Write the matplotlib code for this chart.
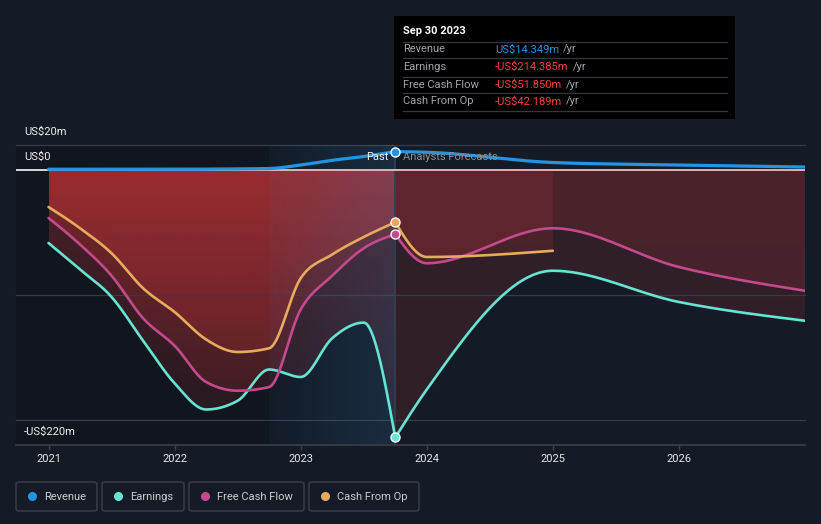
import numpy as np
import matplotlib
matplotlib.use("Agg")
import matplotlib.pyplot as plt
from matplotlib.patches import Rectangle, FancyBboxPatch
from matplotlib.lines import Line2D

plt.rcParams['font.family'] = ['Roboto', 'DejaVu Sans']

# past (quarterly, trailing twelve months) values in US$ m
past_years = [2021.0, 2021.25, 2021.5, 2021.75, 2022.0, 2022.25, 2022.5, 2022.75,
              2023.0, 2023.25, 2023.5, 2023.75]
revenue_past = [0.2, 0.2, 0.2, 0.2, 0.2, 0.3, 0.5, 0.8, 3.6, 7.4, 10.4, 14.349]
earnings_past = [-58.8, -80, -102, -137, -171, -192, -185, -160, -166, -135, -122.5, -214.385]
fcf_past = [-38.8, -60, -85, -119, -141, -170, -177, -174, -112, -85, -63, -51.85]
cfo_past = [-30, -47, -67, -95, -114, -136, -146, -143, -87, -68, -54, -42.189]

# analyst forecasts
fc_years = [2023.75, 2024.0, 2025.0, 2026.0, 2027.0]
revenue_fc = [14.349, 13.8, 5.6, 3.6, 2.0]
earnings_fc = [-214.385, -176, -81, -106, -121]
fcf_fc = [-51.85, -75, -47, -78, -97]
cfo_fc_years = [2023.75, 2024.0, 2025.0]
cfo_fc = [-42.189, -70, -65]

year_ticks = [2021, 2022, 2023, 2024, 2025, 2026]

BG = '#151b26'
C_REV = '#2394e0'
C_EARN = '#66e3d1'
C_FCF = '#c4498e'
C_CFO = '#e6ab5c'
RED = np.array([230, 58, 59]) / 255
FS = 8

W, H = 821, 524


def px(x, y):
    return x / W, 1 - y / H


def smooth(x, y, n=40):
    # monotone cubic (d3 curveMonotoneX style) used only for drawing the curve
    x = np.asarray(x, float)
    y = np.asarray(y, float)
    h = np.diff(x)
    d = np.diff(y) / h
    m = np.zeros_like(y)
    for i in range(1, len(y) - 1):
        s0, s1 = d[i - 1], d[i]
        p = (s0 * h[i] + s1 * h[i - 1]) / (h[i - 1] + h[i])
        m[i] = (np.sign(s0) + np.sign(s1)) * min(abs(s0), abs(s1), 0.5 * abs(p))
    m[0] = (3 * d[0] - m[1]) / 2 if len(y) > 2 else d[0]
    m[-1] = (3 * d[-1] - m[-2]) / 2 if len(y) > 2 else d[-1]
    xs, ys = [], []
    for i in range(len(h)):
        t = np.linspace(0, 1, n, endpoint=False)
        h00 = 2 * t**3 - 3 * t**2 + 1
        h10 = t**3 - 2 * t**2 + t
        h01 = -2 * t**3 + 3 * t**2
        h11 = t**3 - t**2
        xs.append(x[i] + t * h[i])
        ys.append(h00 * y[i] + h10 * h[i] * m[i] + h01 * y[i + 1] + h11 * h[i] * m[i + 1])
    xs.append([x[-1]])
    ys.append([y[-1]])
    return np.concatenate(xs), np.concatenate(ys)


fig = plt.figure(figsize=(W / 100, H / 100), dpi=100, facecolor=BG)
l, b = px(16, 444.5)
ax = fig.add_axes([l, b, 789 / W, 300 / H], facecolor=BG)
X0, X1 = 2020.742, 2027.0
Y0, Y1 = -220, 20


def red_fill(xs, ys, a_top, a_bot, z):
    poly = ax.fill_between(xs, 0, ys, facecolor='none', edgecolor='none')
    path = poly.get_paths()[0]
    img = np.zeros((256, 1, 4))
    img[..., :3] = RED
    img[..., 3] = np.linspace(a_top, a_bot, 256)[:, None]
    im = ax.imshow(img, extent=[xs.min(), xs.max(), -220, 0], aspect='auto',
                   origin='upper', interpolation='bilinear', zorder=z)
    im.set_clip_path(path, transform=ax.transData)


# darker past region
ax.axvspan(X0, 2023.75, color='black', alpha=0.2, lw=0, zorder=0)

# red area fills, past stronger with vertical fade, forecast flat
for yrs, vals in [(past_years, earnings_past), (past_years, fcf_past), (past_years, cfo_past)]:
    sx, sy = smooth(yrs, vals)
    red_fill(sx, sy, 0.29, 0.09, 1)
for yrs, vals in [(fc_years, earnings_fc), (fc_years, fcf_fc), (cfo_fc_years, cfo_fc)]:
    sx, sy = smooth(yrs, vals)
    red_fill(sx, sy, 0.14, 0.13, 1)

# highlighted last year band
band = np.zeros((1, 256, 4))
band[..., :3] = np.array([60, 130, 195]) / 255
band[..., 3] = np.linspace(0.06, 0.22, 256)[None, :]
ax.imshow(band, extent=[2022.75, 2023.75, Y0, Y1], aspect='auto', origin='upper',
          interpolation='bilinear', zorder=2)

# grid lines
for v in [20, -100, -200]:
    ax.axhline(v, color='#363b46', lw=0.9, zorder=1.5, clip_on=False)
ax.plot([X0, 2021.0], [0, 0], color='#e8e8e8', lw=1.3, zorder=3, solid_capstyle='butt')
ax.plot([2021.0, X1], [0, 0], color='#e9bcc0', lw=1.3, zorder=3, solid_capstyle='butt')

# cursor line
ax.axvline(2023.75, color='#2e3f55', lw=1.2, zorder=2.5)

# series lines
n_past = len(past_years)
for yrs, vals, c, lw in [(past_years + fc_years[1:], earnings_past + earnings_fc[1:], C_EARN, 1.9),
                         (past_years + fc_years[1:], fcf_past + fcf_fc[1:], C_FCF, 1.9),
                         (past_years + cfo_fc_years[1:], cfo_past + cfo_fc[1:], C_CFO, 1.9),
                         (past_years + fc_years[1:], revenue_past + revenue_fc[1:], C_REV, 2.3)]:
    # smooth past and forecast separately to keep the knot at Sep 2023
    sx1, sy1 = smooth(yrs[:n_past], vals[:n_past])
    sx2, sy2 = smooth(yrs[n_past - 1:], vals[n_past - 1:])
    ax.plot(np.r_[sx1, sx2], np.r_[sy1, sy2], color=c, lw=lw, zorder=4,
            solid_capstyle='round')
    ax.plot(2023.75, vals[n_past - 1], 'o', ms=6.5, mfc=c, mec='white', mew=1, zorder=5)

ax.set_xlim(X0, X1)
ax.set_ylim(Y0, Y1)
for s in ['top', 'left', 'right']:
    ax.spines[s].set_visible(False)
ax.spines['bottom'].set_color('#3b404b')
ax.spines['bottom'].set_linewidth(1.2)
ax.set_yticks([])
ax.set_xticks(year_ticks)
ax.set_xticklabels([str(y) for y in year_ticks])
ax.tick_params(axis='x', colors='#3b404b', labelcolor='#e6e6e6', length=3.5, width=1,
               pad=3.5, labelsize=FS)

# y labels
for txt, y in [('US$20m', 132), ('US$0', 157), ('-US$220m', 432)]:
    fig.text(*px(24, y), txt, color='#eeeeee', fontsize=FS, va='center', ha='left')

fig.text(*px(388, 157), 'Past', color='#f2f2f2', fontsize=FS, va='center', ha='right')
fig.text(*px(403, 157), 'Analysts Forecasts', color='#8b9099', fontsize=FS, va='center', ha='left')

# tooltip
fig.patches.append(Rectangle(px(394, 119), 341 / W, 103 / H, transform=fig.transFigure,
                             facecolor='black', edgecolor='none', zorder=10))
fig.text(*px(403, 31), 'Sep 30 2023', color='white', fontsize=FS, fontweight='bold',
         va='center', zorder=11)
for y in [41.7, 58.3, 76.7, 93.3, 111]:
    fig.add_artist(Line2D([403 / W, 727 / W], [1 - y / H] * 2, color='#33373f', lw=0.9,
                          transform=fig.transFigure, zorder=11))
rows = [('Revenue', 'US$14.349m', C_REV, 49.5),
        ('Earnings', '-US$214.385m', '#ec4442', 66.5),
        ('Free Cash Flow', '-US$51.850m', '#ec4442', 84.5),
        ('Cash From Op', '-US$42.189m', '#ec4442', 101.5)]
renderer = fig.canvas.get_renderer()
for lab, val, c, y in rows:
    fig.text(*px(403, y), lab, color='#a2a6ad', fontsize=FS, va='center', zorder=11)
    t = fig.text(*px(495, y), val, color=c, fontsize=FS, va='center', zorder=11)
    ext = t.get_window_extent(renderer)
    fig.text(ext.x1 / W + 4 / W, 1 - y / H, '/yr', color='#a2a6ad', fontsize=FS,
             va='center', zorder=11)

# legend boxes
legend_items = [('Revenue', C_REV, 16, 97), ('Earnings', C_EARN, 102, 184),
                ('Free Cash Flow', C_FCF, 189, 304), ('Cash From Op', C_CFO, 309, 419)]
for lab, c, x0, x1 in legend_items:
    fig.patches.append(FancyBboxPatch(px(x0, 511), (x1 - x0) / W, 29 / H,
                                      boxstyle='round,pad=0,rounding_size=0.004',
                                      transform=fig.transFigure, facecolor=BG,
                                      edgecolor='#3b404b', lw=1))
    fig.add_artist(Line2D([(x0 + 16) / W], [1 - 496 / H], marker='o', ms=5.5, color=c,
                          mec=c, transform=fig.transFigure))
    fig.text(*px(x0 + 28, 496.5), lab, color='#c9cdd3', fontsize=FS, va='center')

fig.savefig('out.png', dpi=100, facecolor=BG)
